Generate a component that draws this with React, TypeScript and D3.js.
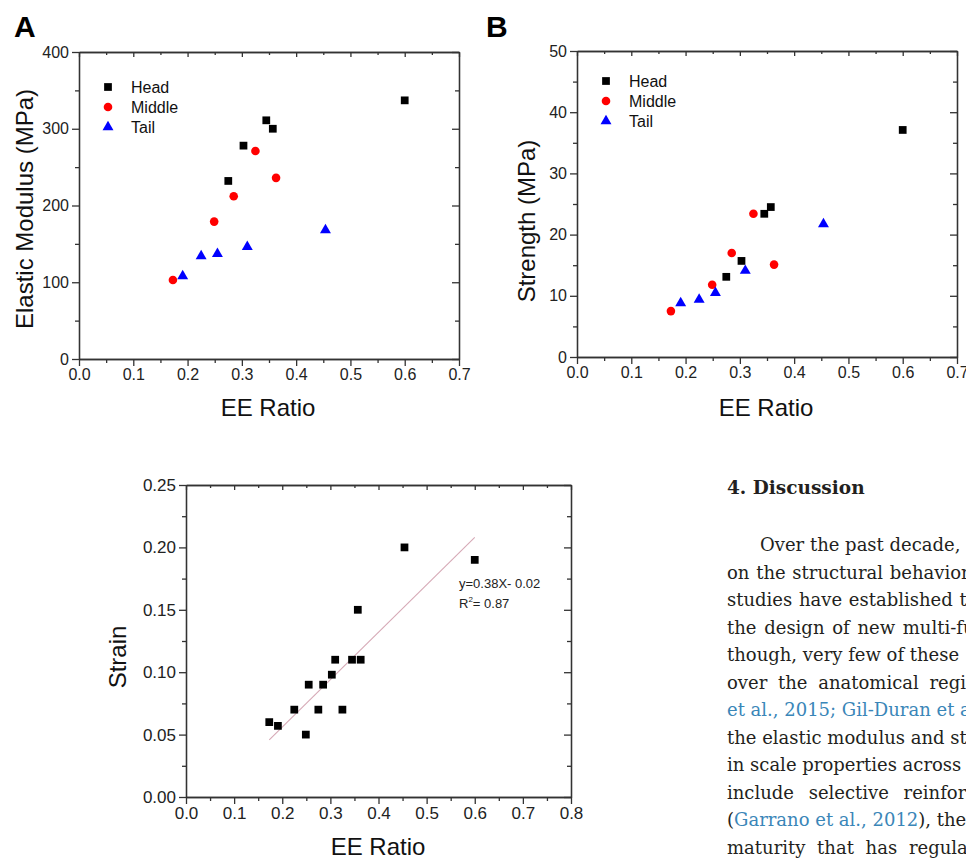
import React, { useRef, useEffect } from 'react';
import * as d3 from 'd3';

// EE ratio per specimen, grouped by body region
const headEE = [0.275, 0.303, 0.345, 0.357, 0.6];
const middleEE = [0.173, 0.249, 0.285, 0.325, 0.363];
const tailEE = [0.191, 0.225, 0.255, 0.31, 0.454];

const headModulus = [232, 278, 311, 300, 337];
const middleModulus = [103, 179, 212, 271, 236];
const tailModulus = [108, 134, 137, 146, 168];

const headStrength = [13.1, 15.7, 23.4, 24.5, 37.1];
const middleStrength = [7.5, 11.8, 17.0, 23.4, 15.1];
const tailStrength = [8.8, 9.4, 10.5, 14.1, 21.7];

const headStrain = [0.07, 0.098, 0.11, 0.15, 0.19];
const middleStrain = [0.06, 0.05, 0.09, 0.07, 0.11];
const tailStrain = [0.057, 0.07, 0.09, 0.11, 0.2];

const regionNames = ['Head', 'Middle', 'Tail'];
const regionColors = ['#000000', '#ff0000', '#0000ff'];

const fitSlope = 0.38;
const fitIntercept = -0.02;
const fitEquation = 'y=0.38X- 0.02';
const fitR2 = '= 0.87';

const discussionHeading = '4.  Discussion';
const discussionLines = [
  [{ t: 'Over the past decade, studies' }],
  [{ t: 'on the structural behavior of' }],
  [{ t: 'studies have established that' }],
  [{ t: 'the design of new multi-functional' }],
  [{ t: 'though, very few of these' }],
  [{ t: 'over the anatomical regions' }],
  [{ t: 'et al., 2015; Gil-Duran et al.', link: true }],
  [{ t: 'the elastic modulus and strength' }],
  [{ t: 'in scale properties across the' }],
  [{ t: 'include selective reinforcement' }],
  [{ t: '(' }, { t: 'Garrano et al., 2012', link: true }, { t: '), the' }],
  [{ t: 'maturity that has regular' }],
];
// extra word spacing that mimics the justified column
const lineWordSpacing = [0, 1, 1, 2, 0, 5, 0, 0, 0, 9, 0, 6];

const FONT = 'Liberation Sans, Arial, sans-serif';
const AXIS = '#333333';

function drawAxes(g, x, y, opt) {
  const [x0, x1] = x.range();
  const [y0, y1] = y.range();
  const none = () => '';
  const style = (sel) => {
    sel.attr('font-family', FONT).attr('font-size', opt.tickFont);
    sel.selectAll('path.domain').attr('stroke', AXIS).attr('stroke-width', 1.3);
    sel.selectAll('line').attr('stroke', AXIS).attr('stroke-width', 1.3);
    sel.selectAll('text').attr('fill', '#222');
  };
  // bottom (outward)
  g.append('g').attr('transform', `translate(0,${y0})`)
    .call(d3.axisBottom(x).tickValues(opt.xMinor).tickSize(4).tickFormat(none).tickSizeOuter(0)).call(style);
  g.append('g').attr('transform', `translate(0,${y0})`)
    .call(d3.axisBottom(x).tickValues(opt.xMajor).tickSize(7).tickPadding(3).tickFormat(d3.format('.1f')).tickSizeOuter(0)).call(style);
  // top (inward)
  g.append('g').attr('transform', `translate(0,${y1})`)
    .call(d3.axisBottom(x).tickValues(opt.xMinor).tickSize(3).tickFormat(none).tickSizeOuter(0)).call(style);
  g.append('g').attr('transform', `translate(0,${y1})`)
    .call(d3.axisBottom(x).tickValues(opt.xMajor).tickSize(5).tickFormat(none).tickSizeOuter(0)).call(style);
  // left (outward)
  g.append('g').attr('transform', `translate(${x0},0)`)
    .call(d3.axisLeft(y).tickValues(opt.yMinor).tickSize(4).tickFormat(none).tickSizeOuter(0)).call(style);
  g.append('g').attr('transform', `translate(${x0},0)`)
    .call(d3.axisLeft(y).tickValues(opt.yMajor).tickSize(7).tickPadding(3).tickFormat(opt.yFmt).tickSizeOuter(0)).call(style);
  // right (inward)
  g.append('g').attr('transform', `translate(${x1},0)`)
    .call(d3.axisLeft(y).tickValues(opt.yMinor).tickSize(4).tickFormat(none).tickSizeOuter(0)).call(style);
  g.append('g').attr('transform', `translate(${x1},0)`)
    .call(d3.axisLeft(y).tickValues(opt.yMajor).tickSize(7).tickFormat(none).tickSizeOuter(0)).call(style);

  g.append('text')
    .attr('transform', `translate(${opt.yTitleX},${opt.yTitleY}) rotate(-90)`)
    .attr('text-anchor', 'middle').attr('dominant-baseline', 'central')
    .attr('font-family', FONT).attr('font-size', 24).attr('fill', '#111')
    .text(opt.yTitle);
  g.append('text')
    .attr('x', opt.xTitleX).attr('y', opt.xTitleY)
    .attr('text-anchor', 'middle')
    .attr('font-family', FONT).attr('font-size', 24).attr('fill', '#111')
    .text('EE Ratio');
}

const symbols = [
  d3.symbol(d3.symbolSquare, 60),
  d3.symbol(d3.symbolCircle, 58),
  d3.symbol(d3.symbolTriangle, 52),
];

function drawRegions(g, x, y, xs, ys) {
  xs.forEach((arr, i) => {
    g.append('g').selectAll('path').data(arr).join('path')
      .attr('transform', (d, j) => `translate(${x(d)},${y(ys[i][j])})`)
      .attr('d', symbols[i]())
      .attr('fill', regionColors[i]);
  });
}

function drawLegend(g, lx, ly) {
  regionNames.forEach((name, i) => {
    g.append('path').attr('transform', `translate(${lx},${ly + i * 20})`)
      .attr('d', symbols[i]()).attr('fill', regionColors[i]);
    g.append('text').attr('x', lx + 23).attr('y', ly + i * 20)
      .attr('dominant-baseline', 'central')
      .attr('font-family', FONT).attr('font-size', 16).attr('fill', '#111')
      .text(name);
  });
}

const App = () => {
  const svgRef = useRef(null);

  useEffect(() => {
    const svg = d3.select(svgRef.current);
    svg.selectAll('*').remove();

    const xMajor = d3.range(0, 0.71, 0.1);
    const xMinor = d3.range(0.05, 0.7, 0.1);

    // Panel A
    const gA = svg.append('g');
    const xA = d3.scaleLinear().domain([0, 0.7]).range([79, 459]);
    const yA = d3.scaleLinear().domain([0, 400]).range([359, 52]);
    drawAxes(gA, xA, yA, {
      xMajor, xMinor, yMajor: d3.range(0, 401, 100), yMinor: d3.range(50, 400, 100),
      yFmt: d3.format('d'), tickFont: 16,
      yTitle: 'Elastic Modulus (MPa)', yTitleX: 24, yTitleY: 209, xTitleX: 268, xTitleY: 416,
    });
    drawRegions(gA, xA, yA, [headEE, middleEE, tailEE], [headModulus, middleModulus, tailModulus]);
    drawLegend(gA, 108, 87);
    gA.append('text').attr('x', 14).attr('y', 37).attr('font-family', FONT)
      .attr('font-weight', 'bold').attr('font-size', 30).text('A');

    // Panel B
    const gB = svg.append('g');
    const xB = d3.scaleLinear().domain([0, 0.7]).range([577, 957]);
    const yB = d3.scaleLinear().domain([0, 50]).range([357, 51]);
    drawAxes(gB, xB, yB, {
      xMajor, xMinor, yMajor: d3.range(0, 51, 10), yMinor: d3.range(5, 50, 10),
      yFmt: d3.format('d'), tickFont: 16,
      yTitle: 'Strength (MPa)', yTitleX: 526, yTitleY: 221, xTitleX: 766, xTitleY: 416,
    });
    drawRegions(gB, xB, yB, [headEE, middleEE, tailEE], [headStrength, middleStrength, tailStrength]);
    drawLegend(gB, 606, 81);
    gB.append('text').attr('x', 486).attr('y', 37).attr('font-family', FONT)
      .attr('font-weight', 'bold').attr('font-size', 30).text('B');

    // Panel C
    const gC = svg.append('g');
    const xC = d3.scaleLinear().domain([0, 0.8]).range([186, 571]);
    const yC = d3.scaleLinear().domain([0, 0.25]).range([797, 485]);
    drawAxes(gC, xC, yC, {
      xMajor: d3.range(0, 0.81, 0.1), xMinor: d3.range(0.05, 0.8, 0.1),
      yMajor: d3.range(0, 0.251, 0.05), yMinor: d3.range(0.025, 0.25, 0.05),
      yFmt: d3.format('.2f'), tickFont: 17,
      yTitle: 'Strain', yTitleX: 117, yTitleY: 657, xTitleX: 378, xTitleY: 855,
    });
    const allEE = [...headEE, ...middleEE, ...tailEE];
    const allStrain = [...headStrain, ...middleStrain, ...tailStrain];
    const [fx0, fx1] = d3.extent(allEE);
    gC.append('line')
      .attr('x1', xC(fx0)).attr('y1', yC(fitSlope * fx0 + fitIntercept))
      .attr('x2', xC(fx1)).attr('y2', yC(fitSlope * fx1 + fitIntercept))
      .attr('stroke', '#d6a9b6').attr('stroke-width', 1.1);
    gC.append('g').selectAll('path').data(allEE).join('path')
      .attr('transform', (d, i) => `translate(${xC(d)},${yC(allStrain[i])})`)
      .attr('d', symbols[0]())
      .attr('fill', '#000');
    gC.append('text').attr('x', 459).attr('y', 588).attr('font-family', FONT)
      .attr('font-size', 13).attr('fill', '#222').text(fitEquation);
    const r2 = gC.append('text').attr('x', 459).attr('y', 608).attr('font-family', FONT)
      .attr('font-size', 13).attr('fill', '#222');
    r2.append('tspan').text('R');
    r2.append('tspan').attr('dy', -6).attr('font-size', 8).text('2');
    r2.append('tspan').attr('dy', 6).text(fitR2);

    // Discussion text
    const gT = svg.append('g').attr('font-family', 'DejaVu Serif, serif');
    gT.append('text').attr('x', 727).attr('y', 494).attr('font-weight', 'bold')
      .attr('font-size', 18.5).attr('fill', '#231f20').text(discussionHeading);
    discussionLines.forEach((segs, i) => {
      const t = gT.append('text')
        .attr('x', i === 0 ? 760 : 727)
        .attr('y', 551 + i * 27.5)
        .attr('font-size', 18)
        .attr('word-spacing', lineWordSpacing[i])
        .attr('fill', '#231f20');
      segs.forEach((s) => {
        t.append('tspan').attr('fill', s.link ? '#3a86b8' : '#231f20').text(s.t);
      });
    });
  }, []);

  return (
    <div style={{ position: 'absolute', left: 0, top: 0 }}>
      <svg ref={svgRef} width={966} height={858} style={{ display: 'block', background: '#fff' }} />
    </div>
  );
};

export default App;
